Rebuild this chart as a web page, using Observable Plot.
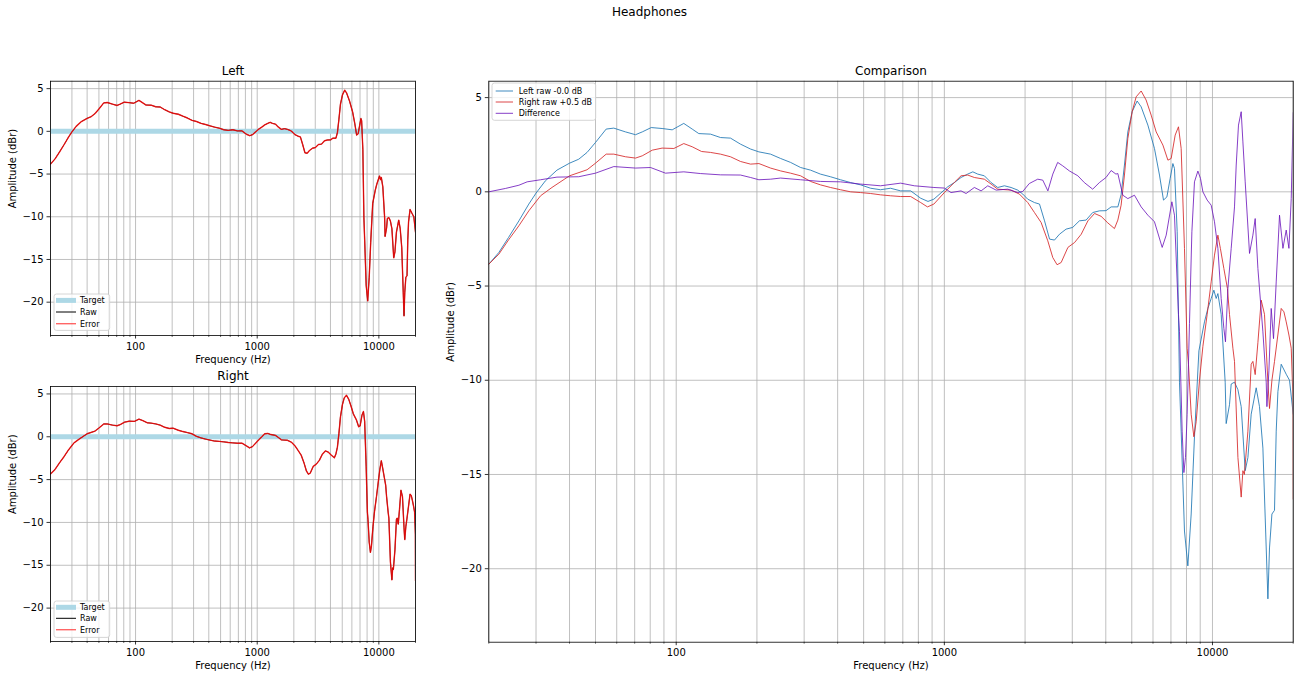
<!DOCTYPE html>
<html>
<head>
<meta charset="utf-8">
<script src="https://cdn.jsdelivr.net/npm/d3@7"></script>
<script src="https://cdn.jsdelivr.net/npm/@observablehq/plot@0.6"></script>
<style>
  html, body { margin: 0; padding: 0; background: #fff; }
  #root { position: relative; width: 1299px; height: 680px; overflow: hidden; font-family: "DejaVu Sans", sans-serif; }
  .panel { position: absolute; }
  .legend { position: absolute; overflow: visible; }
  #suptitle { position: absolute; left: 0; width: 1299px; top: 5px; text-align: center; font-size: 12px; color: #000; }
</style>
</head>
<body>
<div id="root">
  <div id="suptitle">Headphones</div>
</div>
<script>
// ---------------- data ----------------
const leftFreq = [20,21.8,23.7,25.9,28.2,30,32.5,35.9,40,43.3,46.5,50,54.8,58.5,64.7,70.5,74.7,80.7,88.6,96.6,106.7,114.7,121.4,134.3,146.3,159.4,173.7,189.3,203.4,224.8,245,267,291,317,345,376,410,447,487,531,578,630,687,749,816,869,914,1000,1030,1090,1154,1222,1277,1332,1410,1494,1582,1675,1773,1878,1961,2046,2168,2264,2364,2468,2575,2688,2845,3010,3189,3377,3575,3786,4008,4188,4436,4563,4695,4834,5017,5236,5420,5741,6076,6343,6566,6761,6953,7117,7215,7385,7532,7642,7862,8094,8328,8567,8899,9336,9612,9888,10120,10323,10474,10776,11152,11248,11573,11743,12082,12441,12797,13244,13556,13944,14555,14974,15418,15862,16094,16318,16658,17034,17286,17539,18044,18836,19377,20000];
const leftDb = [-3.84,-3.22,-2.42,-1.54,-0.65,-0.07,0.58,1.15,1.52,1.73,2.09,2.62,3.33,3.38,3.18,3.03,3.18,3.41,3.36,3.29,3.63,3.33,3.09,3.06,2.88,2.85,2.53,2.27,2.12,2.0,1.77,1.56,1.29,1.15,0.94,0.8,0.64,0.49,0.37,0.19,0.11,0.19,0.05,0.05,-0.34,-0.51,-0.39,0.1,0.27,0.49,0.76,0.94,1.06,0.94,0.85,0.49,0.23,0.32,0.23,0.09,-0.12,-0.39,-0.57,-0.65,-1.54,-2.51,-2.56,-2.25,-1.98,-1.89,-1.54,-1.5,-1.1,-1.01,-1.0,-0.8,-0.8,-0.15,1.42,3.18,4.25,4.82,4.51,3.54,2.3,0.89,-0.44,-0.27,0.71,1.5,1.24,-2.12,-10.1,-12.7,-18.0,-19.85,-17.1,-13.0,-8.44,-6.9,-6.19,-5.66,-5.22,-5.66,-5.4,-6.5,-10.1,-12.3,-11.3,-10.2,-10.1,-10.5,-11.4,-14.8,-14.1,-11.8,-10.4,-11.4,-13.6,-18.9,-21.6,-18.9,-17.1,-16.9,-12.7,-10.6,-9.15,-9.68,-10.0,-11.8];

const rightFreq = [20,21.8,23.7,25.9,28.2,31.2,34.4,40,46.5,50,54.8,58.5,64.7,70.5,74.7,81.4,88.6,98,106.7,114.7,124.3,134.3,146.3,159.4,173.7,189.3,203.4,224.8,245,267,291,317,345,376,410,447,487,531,578,630,687,749,816,865,914,1000,1090,1154,1222,1294,1410,1494,1582,1773,1905,2047,2168,2296,2431,2538,2633,2727,2889,3060,3240,3431,3633,3843,4071,4309,4436,4563,4695,4834,5017,5192,5420,5656,5906,6166,6532,6820,7013,7259,7467,7642,7862,8046,8136,8328,8523,8694,8944,9210,9555,9888,10174,10474,10700,11027,11370,11573,11916,12082,12441,12797,12985,13150,13556,13944,14147,14431,14769,15193,15631,16094,16318,16658,17034,18044,18469,18836,19279,19665,19953,20000];
const rightDb = [-4.34,-3.81,-3.05,-2.3,-1.51,-0.71,-0.27,0.35,0.67,1.02,1.5,1.5,1.36,1.29,1.41,1.71,1.82,1.8,2.06,1.89,1.64,1.59,1.5,1.36,1.11,0.97,1.0,0.76,0.61,0.49,0.35,0.05,-0.13,-0.27,-0.39,-0.5,-0.54,-0.59,-0.66,-0.71,-0.75,-0.75,-1.07,-1.3,-1.15,-0.54,0.0,0.35,0.39,0.26,0.17,-0.09,-0.36,-0.41,-0.62,-1.07,-1.6,-2.13,-3.1,-3.99,-4.37,-4.25,-3.45,-3.19,-2.75,-2.04,-1.65,-1.8,-2.15,-2.45,-2.0,-1.21,0.39,2.33,3.75,4.54,4.85,4.37,3.57,2.68,1.98,1.18,1.27,2.51,2.95,1.8,-3.5,-8.8,-9.65,-12.3,-13.5,-12.7,-10.5,-8.7,-7.0,-5.28,-3.86,-2.8,-3.5,-4.57,-5.63,-7.0,-8.8,-9.5,-14.6,-16.7,-15.3,-15.5,-13.2,-9.65,-9.5,-10.2,-8.5,-6.25,-7.0,-10.6,-12.0,-10.5,-9.5,-6.69,-6.87,-7.4,-8.1,-8.8,-11.4,-16.8];

const diffFreq = [20,23.1,25.9,27.8,31.2,35.9,43.3,50,58.5,70.5,80.2,91.2,106.7,123,146.3,173.7,189.3,203.4,224.8,245,291,345,410,487,578,687,773,914,1000,1059,1154,1205,1294,1371,1452,1560,1724,1878,1961,2074,2229,2328,2433,2538,2646,2763,2926,3147,3327,3575,3786,4008,4188,4364,4436,4630,4834,5117,5420,5741,6076,6493,6720,7056,7215,7467,7532,7708,7822,7930,8046,8207,8378,8567,8822,9021,9210,9555,9888,10174,10474,10776,11027,11181,11415,11743,12082,12260,12503,12797,12985,13244,13744,14147,14431,14769,15418,15862,15958,16232,16558,16890,17286,17783,18311,18836,19279,19665,20000];
const diffDb = [0.0,0.18,0.35,0.53,0.64,0.78,0.8,0.99,1.34,1.26,1.29,0.99,1.06,0.97,0.9,0.89,0.76,0.64,0.67,0.73,0.64,0.55,0.53,0.41,0.32,0.46,0.32,0.23,0.2,-0.04,0.05,-0.09,0.23,0.05,0.32,0.09,0.14,-0.04,0.02,0.44,0.67,0.62,0.05,0.94,1.56,1.38,1.11,0.85,0.49,0.14,0.49,0.76,1.13,0.94,0.97,-0.18,-0.36,-0.18,-0.8,-1.24,-1.59,-2.95,-2.3,-0.53,-1.24,-6.5,-7.4,-12.7,-14.9,-14.1,-11.8,-7.0,-2.12,0.53,1.1,0.71,0.0,-0.44,-0.71,-1.59,-3.0,-5.66,-7.25,-7.96,-5.13,-3.0,-0.8,1.42,3.54,4.25,2.65,0.53,-3.27,-2.3,-1.42,-4.07,-7.43,-10.1,-11.4,-9.5,-6.19,-7.79,-4.78,-1.24,-3.0,-2.03,-3.0,-0.36,4.2];

const targetFreq = [20, 20000];
const targetDb = [0, 0];

const leftGain = -0.0;   // "Left raw -0.0 dB"
const rightGain = 0.5;   // "Right raw +0.5 dB"

const yTicks = [5, 0, -5, -10, -15, -20];
const majorX = [100, 1000, 10000];
const minorX = [20,30,40,50,60,70,80,90,200,300,400,500,600,700,800,900,2000,3000,4000,5000,6000,7000,8000,9000,20000];
const gridXTicks = [...minorX, ...majorX];
const xDomain = [20, 20000];
const yDomain = [-23.9, 5.87];

const colLeft = "#1f77b4", colRight = "#d62728", colDiff = "#680fb9";

// ---------------- helpers ----------------
const rows = (fs, vs, gain = 0) => fs.map((f, i) => ({f, v: vs[i] + gain}));
const fmtY = d => d < 0 ? "\u2212" + Math.abs(d) : String(d);

function panel({width, height, mt, mr, mb, ml, title, marks}) {
  return Plot.plot({
    width, height,
    marginTop: mt, marginRight: mr, marginBottom: mb, marginLeft: ml,
    style: {fontFamily: "DejaVu Sans", fontSize: "10px", color: "#000", background: "transparent", overflow: "visible"},
    x: {type: "log", domain: xDomain, label: null},
    y: {domain: yDomain, label: null},
    marks: [
      Plot.gridX(gridXTicks, {stroke: "#b0b0b0", strokeOpacity: 1, strokeWidth: 0.8}),
      Plot.gridY(yTicks, {stroke: "#b0b0b0", strokeOpacity: 1, strokeWidth: 0.8}),
      ...marks,
      Plot.frame({stroke: "#000", strokeWidth: 0.8}),
      Plot.axisX(majorX, {tickSize: 3.5, tickPadding: 3.5, tickFormat: d => String(d), label: null, strokeWidth: 0.8}),
      Plot.axisX(minorX, {tickSize: 2, tickFormat: () => "", label: null, strokeWidth: 0.6}),
      Plot.axisY(yTicks, {tickSize: 3.5, tickPadding: 3.5, tickFormat: fmtY, label: null, strokeWidth: 0.8}),
      Plot.text([title], {text: d => d, frameAnchor: "top", dy: -15, fontSize: 12}),
      Plot.text(["Frequency (Hz)"], {text: d => d, frameAnchor: "bottom", dy: 27}),
      Plot.text(["Amplitude (dBr)"], {text: d => d, frameAnchor: "left", dx: -38, rotate: -90})
    ]
  });
}

function place(el, left, top) {
  const wrap = document.createElement("div");
  wrap.className = "panel";
  wrap.style.left = left + "px";
  wrap.style.top = top + "px";
  wrap.appendChild(el);
  document.getElementById("root").appendChild(wrap);
}

function legend(left, top, width, height, items, hx0, hx1, tx, rowY) {
  const svg = d3.create("svg").attr("class", "legend")
    .attr("width", width + 2).attr("height", height + 2)
    .style("left", (left - 1) + "px").style("top", (top - 1) + "px");
  svg.append("rect").attr("x", 1).attr("y", 1).attr("width", width).attr("height", height)
    .attr("rx", 2.5).attr("fill", "#fff").attr("fill-opacity", 0.8)
    .attr("stroke", "#cccccc").attr("stroke-width", 0.8);
  items.forEach((it, i) => {
    const cy = rowY[i] + 1;
    svg.append("line").attr("x1", hx0 + 1).attr("x2", hx1 + 1).attr("y1", cy).attr("y2", cy)
      .attr("stroke", it.color).attr("stroke-width", it.width).attr("stroke-opacity", it.opacity);
    svg.append("text").attr("x", tx + 1).attr("y", cy).attr("dy", "0.35em")
      .attr("font-family", "DejaVu Sans").attr("font-size", 8).attr("fill", "#000").text(it.label);
  });
  document.getElementById("root").appendChild(svg.node());
}

function earPanel(freq, db, title, mt, mb, height) {
  const data = rows(freq, db);
  const target = rows(targetFreq, targetDb);
  return panel({
    width: 430, height, mt, mr: 15, mb, ml: 50, title,
    marks: [
      Plot.line(target, {x: "f", y: "v", stroke: "#add8e6", strokeWidth: 5, clip: true}),
      Plot.line(data, {x: "f", y: "v", stroke: "#000", strokeWidth: 0.8, clip: true}),
      Plot.line(data, {x: "f", y: "v", stroke: "red", strokeOpacity: 0.8, strokeWidth: 1.4, clip: true})
    ]
  });
}

// ---------------- panels ----------------
place(earPanel(leftFreq, leftDb, "Left", 20.7, 35, 310), 0, 60);
place(earPanel(rightFreq, rightDb, "Right", 20, 39, 314), 0, 366);

const comp = panel({
  width: 859, height: 620, mt: 20.7, mr: 6.3, mb: 38.3, ml: 48.3, title: "Comparison",
  marks: [
    Plot.line(rows(leftFreq, leftDb, leftGain), {x: "f", y: "v", stroke: colLeft, strokeOpacity: 0.85, strokeWidth: 1, clip: true}),
    Plot.line(rows(rightFreq, rightDb, rightGain), {x: "f", y: "v", stroke: colRight, strokeOpacity: 0.85, strokeWidth: 1, clip: true}),
    Plot.line(rows(diffFreq, diffDb), {x: "f", y: "v", stroke: colDiff, strokeOpacity: 0.8, strokeWidth: 1, clip: true})
  ]
});
place(comp, 440, 60);

// ---------------- legends ----------------
const earItems = [
  {label: "Target", color: "#add8e6", width: 5, opacity: 1},
  {label: "Raw", color: "#000", width: 1, opacity: 1},
  {label: "Error", color: "red", width: 1.4, opacity: 0.6}
];
legend(54.3, 294.3, 55.7, 36.4, earItems, 2, 22, 26, [6.4, 18, 29.7]);
legend(54.3, 601, 55.7, 36.4, earItems, 2, 22, 26, [6.3, 17.3, 28.7]);
legend(492.3, 82.7, 103.7, 37.3, [
  {label: "Left raw -0.0 dB", color: colLeft, width: 1, opacity: 0.85},
  {label: "Right raw +0.5 dB", color: colRight, width: 1, opacity: 0.85},
  {label: "Difference", color: colDiff, width: 1, opacity: 0.8}
], 3.7, 21, 26.7, [8, 19, 30.3]);
</script>
</body>
</html>
